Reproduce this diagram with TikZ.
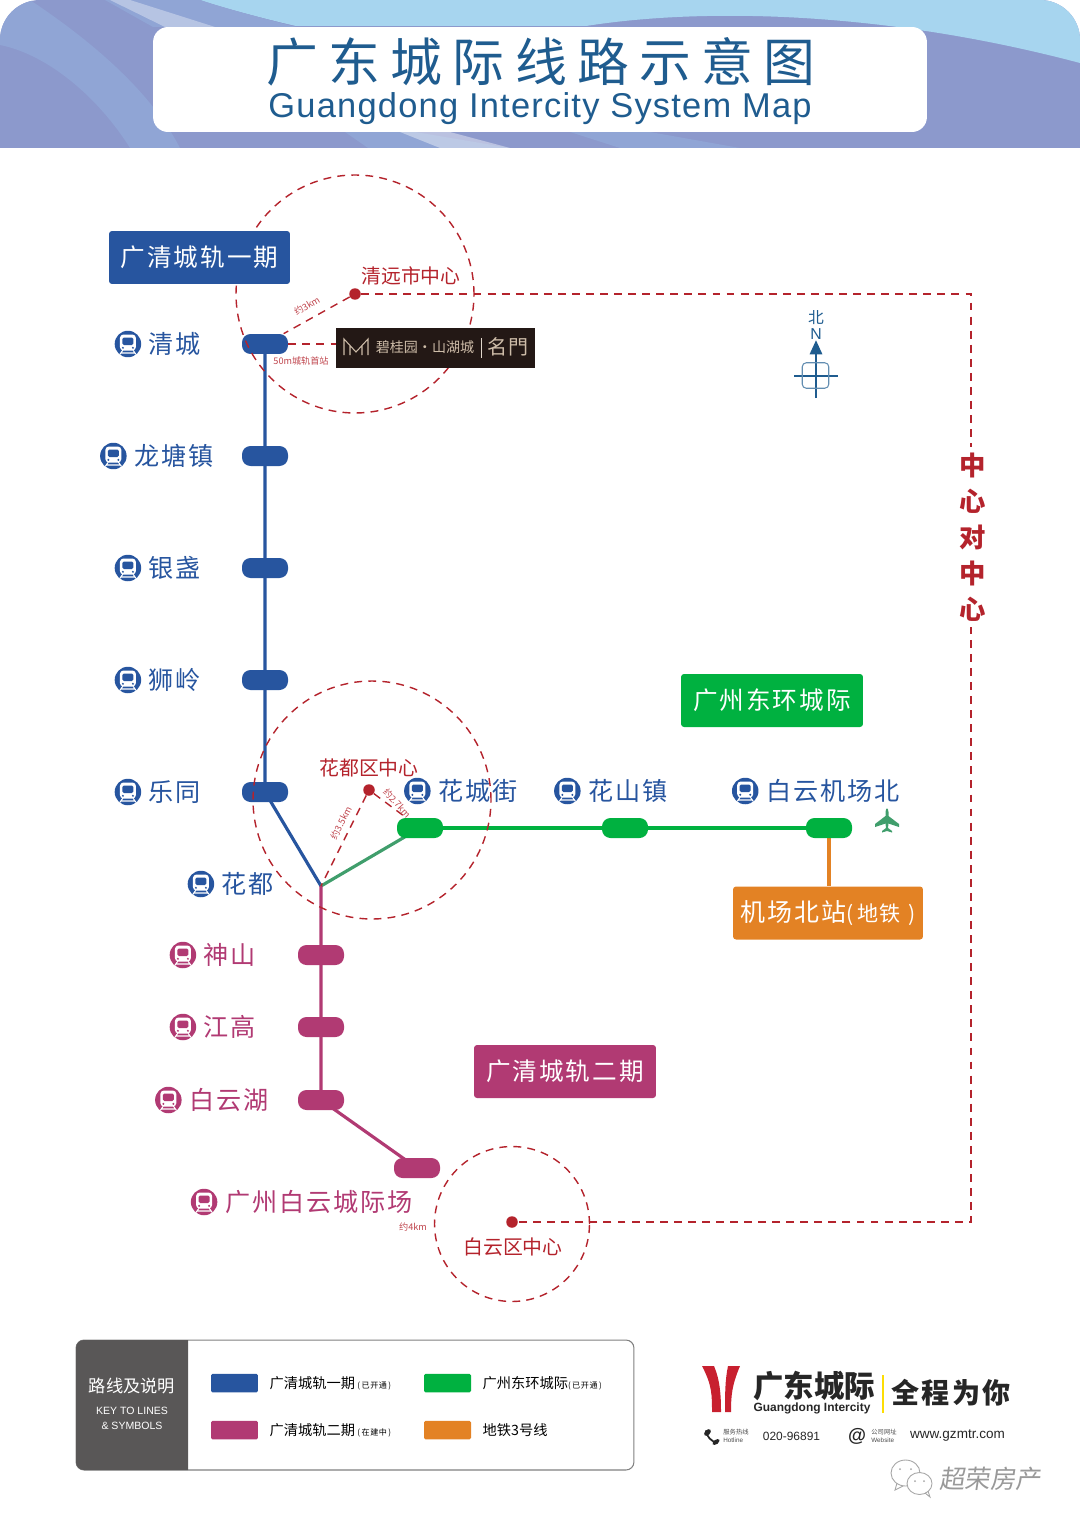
\documentclass[tikz,border=0pt]{standalone}
\usepackage{fontspec}
\setmainfont{Noto Sans CJK SC}
\newfontfamily\latinfont{Liberation Sans}
\newfontfamily\subtitlefont[LetterSpace=3.6]{Liberation Sans}
\newfontfamily\widefont[LetterSpace=8]{Noto Sans CJK SC}
\newfontfamily\titlefont[LetterSpace=20]{Noto Sans CJK SC}
\newfontfamily\slantfont[FakeSlant=0.15]{Noto Sans CJK SC}
\newcommand{\keynotefont}{\widefont\fontsize{4.6}{5}\selectfont}
\usetikzlibrary{arrows.meta, positioning, backgrounds, shapes.geometric}
\definecolor{lineblue}{HTML}{27559F}
\definecolor{linegreen}{HTML}{00B140}
\definecolor{linepink}{HTML}{B13A73}
\definecolor{lineorange}{HTML}{E38224}
\definecolor{linkgreen}{HTML}{409E6C}
\definecolor{markred}{HTML}{B4232C}
\definecolor{titleblue}{HTML}{1F5C8F}
\definecolor{brandbrown}{HTML}{231815}
\definecolor{brandtan}{HTML}{CDBCA8}
\definecolor{keygrey}{HTML}{595757}
\definecolor{logored}{HTML}{C8202F}
\definecolor{bandbase}{HTML}{8C99CC}
\definecolor{bandsky}{HTML}{A7D5EF}
\definecolor{bandmid}{HTML}{90A5D5}
\tikzset{
  every node/.style={inner sep=0pt, text=black},
  stopbox/.style={
    fill=#1, rounded corners=1.7mm, minimum width=9.2mm, minimum height=4mm
  },
  stoplabel/.style={font=\widefont\fontsize{14.3}{16}\selectfont, text=#1},
  trainicon/.style={
    circle, fill=#1, minimum size=5.3mm,
    path picture={
      \begin{scope}[shift={(path picture bounding box.center)}]
        \fill[white, rounded corners=0.7mm] (-8,-9.5) rectangle (8,6.5);
        \fill[#1, rounded corners=0.3mm] (-5.5,-6.5) rectangle (5.5,1);
        \fill[#1] (-5,3.8) circle (1.1) (5,3.8) circle (1.1);
        \draw[white, line width=0.6pt] (-5,6) -- (-8.5,11) (5,6) -- (8.5,11) (-6.5,9) -- (6.5,9);
      \end{scope}
    }
  },
  linebox/.style={
    fill=#1, rounded corners=0.6mm, minimum height=10.6mm,
    font=\widefont\fontsize{14}{16}\selectfont, text=white
  },
  track/.style={line width=1.8pt, draw=#1},
  redring/.style={circle, draw=markred, line width=0.8pt, dash pattern=on 4.5pt off 3.5pt},
  reddash/.style={draw=markred, line width=0.8pt, dash pattern=on 4.5pt off 3.5pt},
  reddot/.style={circle, fill=markred, minimum size=2.3mm},
  redlabel/.style={font=\fontsize{11.3}{13}\selectfont, text=markred},
  distlabel/.style={font=\fontsize{5.2}{6}\selectfont, text=markred!85},
  swatch/.style={fill=#1, rounded corners=0.3mm, minimum width=9.4mm, minimum height=3.7mm},
  keylabel/.style={font=\fontsize{8.1}{10}\selectfont, anchor=west},
}
\begin{document}
\begin{tikzpicture}[x=0.02cm, y=-0.02cm]
        \useasboundingbox (0,0) rectangle (1080,1527);
        % header band
        \begin{scope}
          \clip (0,148) [rounded corners=8mm] -- (0,0) -- (1080,0) [sharp corners] -- (1080,148) -- cycle;
          \fill[bandbase] (0,0) rectangle (1080,148);
          \fill[bandmid] (0,45) .. controls (50,55) and (100,100) .. (130,148) -- (180,148) .. controls (150,90) and (90,40) .. (30,0) -- (0,0) -- cycle;
          \fill[bandsky] (200,0) .. controls (230,10) and (270,20) .. (296,26) -- (586,26) .. controls (700,8) and (880,10) .. (1080,63) -- (1080,0) -- cycle;
          \fill[bandmid] (200,0) -- (105,0) -- (153,27) -- (296,27) .. controls (270,20) and (230,10) .. (200,0) -- cycle;
          \fill[white, opacity=0.35] (110,0) -- (130,0) -- (215,27) -- (165,27) -- cycle;
          \fill[bandmid] (345,132) -- (415,132) -- (510,148) -- (368,148) -- cycle;
          \fill[white, opacity=0.4] (400,132) -- (450,132) -- (510,148) -- (440,148) -- cycle;
          \fill[bandmid] (570,132) -- (650,132) -- (740,148) -- (620,148) -- cycle;
        \end{scope}
        \node[fill=white, rounded corners=3mm, minimum width=15.48cm, minimum height=2.1cm] (titlebox) at (540,79.5) {};
        \node[font=\titlefont\fontsize{29.5}{32}\selectfont, text=titleblue] (title) at (541,62) {广东城际线路示意图};
        \node[font=\subtitlefont\fontsize{19.6}{24}\selectfont, text=titleblue] (subtitle) at (540,108.5) {Guangdong Intercity System Map};
        % stations
        \node[stopbox=lineblue] (qc) at (265,344) {};
        \node[stopbox=lineblue] (lt) at (265,456) {};
        \node[stopbox=lineblue] (yz) at (265,568) {};
        \node[stopbox=lineblue] (sl) at (265,680) {};
        \node[stopbox=lineblue] (ly) at (265,792) {};
        \coordinate (hd) at (321,886);
        \node[stopbox=linepink] (ss) at (321,955) {};
        \node[stopbox=linepink] (jg) at (321,1027) {};
        \node[stopbox=linepink] (byh) at (321,1100) {};
        \node[stopbox=linepink] (bycj) at (417,1168) {};
        \node[stopbox=linegreen] (hcj) at (420,828) {};
        \node[stopbox=linegreen] (hsz) at (625,828) {};
        \node[stopbox=linegreen] (jcb) at (829,828) {};
        % line labels
        \node[linebox=linegreen, minimum width=3.64cm] (dhline) at (772,700.5) {广州东环城际};
        \node[linebox=linepink, minimum width=3.64cm] (phase2) at (565,1071.5) {广清城轨二期};
        \node[linebox=lineorange, minimum width=3.8cm, font=\widefont\fontsize{14.2}{16}\selectfont] (jcmetro) at (828,913) {机场北站\fontsize{12}{14}\selectfont(\,地铁\,\,)};
        % tracks
        \begin{scope}[on background layer]
          \draw[track=lineblue] (qc.center) -- (ly.center) -- (hd);
          \draw[track=linkgreen] (hd) -- (hcj.center);
          \draw[track=linegreen] (hcj.center) -- (jcb.center);
          \draw[track=lineorange] (jcb.center) -- (jcb.center |- jcmetro.north);
          \draw[track=linepink] (hd) -- (byh.center) -- (bycj.center);
        \end{scope}
        % station names
        \node[stoplabel=lineblue] (qclab) at (175,344) {清城};
        \node[trainicon=lineblue, left=1.4mm of qclab] (qcicon) {};
        \node[stoplabel=lineblue] (ltlab) at (174,456) {龙塘镇};
        \node[trainicon=lineblue, left=1.4mm of ltlab] (lticon) {};
        \node[stoplabel=lineblue] (yzlab) at (175,568) {银盏};
        \node[trainicon=lineblue, left=1.4mm of yzlab] (yzicon) {};
        \node[stoplabel=lineblue] (sllab) at (175,680) {狮岭};
        \node[trainicon=lineblue, left=1.4mm of sllab] (slicon) {};
        \node[stoplabel=lineblue] (lylab) at (175,792) {乐同};
        \node[trainicon=lineblue, left=1.4mm of lylab] (lyicon) {};
        \node[stoplabel=lineblue] (hdlab) at (248,884) {花都};
        \node[trainicon=lineblue, left=1.4mm of hdlab] (hdicon) {};
        \node[stoplabel=linepink] (sslab) at (230,955) {神山};
        \node[trainicon=linepink, left=1.4mm of sslab] (ssicon) {};
        \node[stoplabel=linepink] (jglab) at (230,1027) {江高};
        \node[trainicon=linepink, left=1.4mm of jglab] (jgicon) {};
        \node[stoplabel=linepink] (byhlab) at (229,1100) {白云湖};
        \node[trainicon=linepink, left=1.4mm of byhlab] (byhicon) {};
        \node[stoplabel=linepink] (bycjlab) at (319,1202) {广州白云城际场};
        \node[trainicon=linepink, left=1.4mm of bycjlab] (bycjicon) {};
        \node[stoplabel=lineblue] (hcjlab) at (478,791) {花城街};
        \node[trainicon=lineblue, left=1.4mm of hcjlab] (hcjicon) {};
        \node[stoplabel=lineblue] (hszlab) at (628,791) {花山镇};
        \node[trainicon=lineblue, left=1.4mm of hszlab] (hszicon) {};
        \node[stoplabel=lineblue] (jcblab) at (833,791) {白云机场北};
        \node[trainicon=lineblue, left=1.4mm of jcblab] (jcbicon) {};
        % plane
        \fill[linkgreen] (885.5,812) .. controls (886,807) and (888,807) .. (888.5,812) -- (888.5,816) -- (899,824) -- (899,827) -- (888.5,823.5) -- (888,828) -- (892,831) -- (892,832.5) -- (887,831) -- (882,832.5) -- (882,831) -- (886,828) -- (885.5,823.5) -- (875,827) -- (875,824) -- (885.5,816) -- cycle;
        % rings and centres
        \node[redring, minimum size=4.76cm] (qyring) at (355,294) {};
        \node[redring, minimum size=4.76cm] (hdring) at (372,800) {};
        \node[redring, minimum size=3.1cm] (byring) at (512,1224) {};
        \node[reddot] (qydot) at (355,294) {};
        \node[reddot] (hddot) at (369,790) {};
        \node[reddot] (bydot) at (512,1222) {};
        \node[redlabel] (qylab) at (411,276) {清远市中心};
        \node[redlabel] (hdclab) at (369,768) {花都区中心};
        \node[redlabel] (byclab) at (513,1247) {白云区中心};
        \node[linebox=lineblue, minimum width=3.62cm] (phase1) at (199.5,257.5) {广清城轨一期};
        % brand plate
        \node[fill=brandbrown, minimum width=3.98cm, minimum height=0.8cm] (brand) at (435.5,348) {};
        \draw[brandtan, line width=0.6pt] (344,355) -- (344,339) -- (356,352) -- (368,339) -- (368,355) (350,355) -- (350,345) (362,345) -- (362,355);
        \node[font=\fontsize{8}{9}\selectfont, text=brandtan] (brandname) at (425,347) {碧桂园·山湖城};
        \draw[brandtan!60, line width=0.3pt] (481,338) -- (481,358);
        \node[font=\fontsize{11.4}{13}\selectfont, text=brandtan] (brandgate) at (508,347) {名門};
        % dashed links
        \coordinate (cornerne) at (971,294);
        \coordinate (cornerse) at (971,1222);
        \draw[reddash] (qydot) -- (qc);
        \draw[reddash] (qc.east) -- (qc.east -| brand.west);
        \draw[reddash] (hddot) -- (hd);
        \draw[reddash] (hddot) -- (hcj);
        \draw[reddash] (qydot) -- (cornerne) -- node[pos=0.262, xshift=0.8pt, fill=white, minimum height=3.6cm, minimum width=5.6mm, align=center, font=\bfseries\fontsize{15}{20.4}\selectfont, text=markred] (c2c) {中\\心\\对\\中\\心} (cornerse) -- (bydot);
        \node[distlabel, rotate=30] (d3km) at (307,306) {约3km};
        \node[distlabel] (d50m) at (301,361) {50m城轨首站};
        \node[distlabel, rotate=63] (d35km) at (341,823) {约3.5km};
        \node[distlabel, rotate=-48] (d27km) at (397,803) {约2.7km};
        \node[distlabel] (d4km) at (413,1227) {约4km};
        % compass
        \node[align=center, font=\fontsize{9}{9.5}\selectfont, text=titleblue] (northlab) at (816,325) {北\\\latinfont N};
        \coordinate (compassfoot) at (816,398);
        \draw[titleblue, line width=1.1pt, -{Triangle[length=8pt,width=7pt]}] (compassfoot) -- (northlab.south);
        \draw[titleblue, line width=1.1pt] (794,376) -- (838,376);
        \node[draw=titleblue!70, rounded corners=0.8mm, minimum width=5.3mm, minimum height=5.1mm, line width=0.6pt] (compassbox) at (815.5,375.5) {};
        % key panel
        \node[draw=black!50, rounded corners=1.6mm, minimum width=11.16cm, minimum height=2.6cm, line width=0.6pt] (keypanel) at (355,1405) {};
        \fill[keygrey] (188,1340) [rounded corners=1.6mm] -- (76,1340) -- (76,1470) [sharp corners] -- (188,1470) -- cycle;
        \node[font=\fontsize{9.8}{12}\selectfont, text=white] (keytitle) at (132,1386) {路线及说明};
        \node[align=center, font=\latinfont\fontsize{6}{8.4}\selectfont, text=white] (keyen) at (132,1418) {KEY TO LINES\\\& SYMBOLS};
        \node[swatch=lineblue] (key1) at (234.5,1383) {};
        \node[swatch=linepink] (key2) at (234.5,1430) {};
        \node[swatch=linegreen] (key3) at (447.5,1383) {};
        \node[swatch=lineorange] (key4) at (447.5,1430) {};
        \node[keylabel, right=2.2mm of key1] (key1lab) {广清城轨一期\,{\keynotefont(\,已开通\,)}};
        \node[keylabel, right=2.2mm of key2] (key2lab) {广清城轨二期\,{\keynotefont(\,在建中\,)}};
        \node[keylabel, right=2.2mm of key3] (key3lab) {广州东环城际{\keynotefont(\,已开通\,)}};
        \node[keylabel, right=2.2mm of key4] (key4lab) {地铁3号线};
        % operator logo
        \fill[logored] (702,1366) -- (714,1366) .. controls (720,1380) and (721,1395) .. (721,1412) -- (712,1412) .. controls (712,1395) and (712,1385) .. (702,1366) -- cycle;
        \fill[logored] (740,1366) -- (728,1366) .. controls (725,1380) and (725,1395) .. (725,1412) -- (731,1412) .. controls (731,1395) and (732,1385) .. (740,1366) -- cycle;
        \node[font=\bfseries\fontsize{17.3}{20}\selectfont, text=black!85] (opname) at (814,1386) {广东城际};
        \node[font=\latinfont\bfseries\fontsize{6.8}{8}\selectfont, text=black!85] (openname) at (812,1408) {Guangdong Intercity};
        \draw[yellow!80!orange, line width=0.8pt] (883,1375) -- (883,1413);
        \node[font=\widefont\bfseries\fontsize{16}{20}\selectfont, text=black!85] (opslogan) at (951,1393) {全程为你};
        \draw[black!85, line width=1pt, line cap=round] (706,1431) .. controls (707,1437) and (711,1441) .. (717,1443);
        \fill[black!85, rotate around={-45:(707.5,1432.5)}] (707.5,1432.5) ellipse (2.6 and 4);
        \fill[black!85, rotate around={-55:(716,1442)}] (716,1442) ellipse (2.2 and 4);
        \node[align=left, font=\fontsize{3.6}{4.6}\selectfont, text=black!70] (hotlab) at (736,1436) {服务热线\\\latinfont Hotline};
        \node[font=\latinfont\fontsize{6.8}{8}\selectfont, text=black!85] (hotline) at (791.5,1436) {020-96891};
        \node[font=\latinfont\bfseries\fontsize{10.5}{11}\selectfont, text=black!85] (atsign) at (857,1436) {@};
        \node[align=left, font=\fontsize{3.6}{4.6}\selectfont, text=black!70] (weblab) at (884,1436) {公司网址\\\latinfont Website};
        \node[font=\latinfont\fontsize{7.7}{9}\selectfont, text=black!85] (website) at (957.5,1436) {www.gzmtr.com};
        % watermark
        \node[ellipse, draw=black!35, fill=white, line width=0.5pt, minimum width=5.8mm, minimum height=5.2mm] (wxa) at (905.5,1473) {};
        \draw[black!35, line width=0.5pt] (897,1483) -- (895,1490) -- (903,1486);
        \fill[black!35] (900,1469) circle (1) (911,1469) circle (1);
        \node[ellipse, draw=black!35, fill=white, line width=0.5pt, minimum width=5mm, minimum height=4.4mm] (wxb) at (919.5,1483.5) {};
        \draw[black!35, line width=0.5pt] (925,1493) -- (930,1497) -- (928,1491);
        \fill[black!35] (915,1481) circle (1) (924,1481) circle (1);
        \node[font=\slantfont\fontsize{14.5}{16}\selectfont, text=black!40] (wxname) at (990,1479) {超荣房产};
\end{tikzpicture}
\end{document}
